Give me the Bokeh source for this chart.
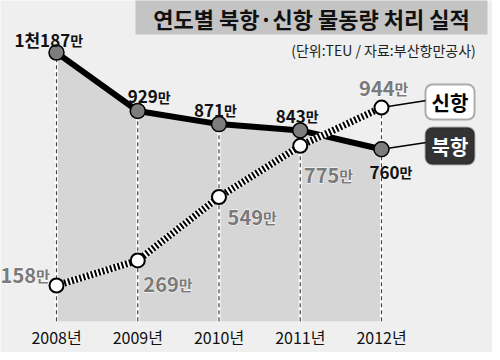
from bokeh.plotting import figure
from bokeh.models import Range1d, BoxAnnotation, Label, ColumnDataSource
from bokeh.core.properties import value
from bokeh.embed import file_html
from bokeh.resources import INLINE
import numpy as np

# ---------------- data ----------------
years = [2008, 2009, 2010, 2011, 2012]
year_labels = ["2008년", "2009년", "2010년", "2011년", "2012년"]
north = [1187, 929, 871, 843, 760]          # 북항
new = [158, 269, 549, 775, 944]             # 신항
north_text = ["1천187", "929", "871", "843", "760"]
new_text = ["158", "269", "549", "775", "944"]
unit = "만"
title = "연도별 북항·신항 물동량 처리 실적"
subtitle = "(단위:TEU / 자료:부산항만공사)"
legend_new = "신항"
legend_north = "북항"

# ---------------- layout helpers ----------------
BG = "#efefef"
W, H = 492, 352
PX_YEAR = 81.25
X2008 = 64
PX_UNIT = 0.2264
Y_ZERO = 328.8


def X(px):
    return 2008 + (px - X2008) / PX_YEAR


def Y(py):
    return (Y_ZERO - py) / PX_UNIT


CJK = "Noto Sans CJK KR"
NUMF = "Noto Sans CJK KR"

p = figure(width=W, height=H, x_range=Range1d(X(8), X(500)), y_range=Range1d(Y(360), Y(8)),
           output_backend="svg", toolbar_location=None, min_border=0,
           x_axis_type=None, y_axis_type=None,
           background_fill_color=BG, border_fill_color=BG, outline_line_color=None)
p.grid.visible = False

# area under 북항
p.varea(x=years, y1=[0] * len(years), y2=north, fill_color="#d6d6d6")

# dashed verticals
tops = list(np.maximum(north, new))
p.segment(x0=years, y0=[0] * len(years), x1=years, y1=tops, line_color="white", line_width=3)
p.segment(x0=years, y0=[0] * len(years), x1=years, y1=tops, line_color="#444444",
          line_width=1.2, line_dash="4 3")

# title box
p.add_layout(BoxAnnotation(left=X(143), right=X(495), top=Y(0), bottom=Y(42),
                           fill_color="#c4c4c4", fill_alpha=1, line_color=None, level="underlay"))
p.add_layout(Label(x=X(319), y=Y(25), text=title, text_align="center", text_baseline="middle",
                   text_font=CJK, text_font_size="22px", text_font_style="bold", text_color="#111111"))
p.add_layout(Label(x=X(391), y=Y(57), text=subtitle, text_align="center", text_baseline="middle",
                   text_font=CJK, text_font_size="14px", text_color="#222222"))

# callout lines
p.segment(x0=[years[-1]], y0=[new[-1]], x1=[X(434)], y1=[Y(108)], line_color="black", line_width=1.5)
p.segment(x0=[years[-1]], y0=[north[-1]], x1=[X(434)], y1=[Y(150)], line_color="black", line_width=1.5)

# callout boxes
p.add_layout(BoxAnnotation(left=X(433), right=X(482), top=Y(92), bottom=Y(127),
                           fill_color="white", fill_alpha=1, line_color="black", line_width=2,
                           border_radius=7))
p.add_layout(BoxAnnotation(left=X(433), right=X(482), top=Y(135), bottom=Y(172),
                           fill_color="#333333", fill_alpha=1, line_color="#1a1a1a", line_width=2,
                           border_radius=7))
p.add_layout(Label(x=X(457.5), y=Y(109.5), text=legend_new, text_align="center", text_baseline="middle",
                   text_font=CJK, text_font_size="20px", text_font_style="bold", text_color="black"))
p.add_layout(Label(x=X(457.5), y=Y(153.5), text=legend_north, text_align="center", text_baseline="middle",
                   text_font=CJK, text_font_size="20px", text_font_style="bold", text_color="white"))

# lines
p.line(years, north, line_color="black", line_width=6)
p.line(years, new, line_color="white", line_width=7)
p.line(years, new, line_color="black", line_width=7, line_dash="2 2")

# markers
p.scatter(years, north, size=15, fill_color="#7d7d7d", line_color="black", line_width=1.5)
p.scatter(years, new, size=14, fill_color="white", line_color="black", line_width=2)


def label_set(xs, ys, nums, dxs, dys, size, usize, color, style, halo):
    splits = []
    for s, dx in zip(nums, dxs):
        nw = sum(0.55 * size if ch.isdigit() else 1.0 * size for ch in s)
        uw = 1.0 * usize
        left = dx - (nw + uw) / 2
        splits.append(left + nw)
    src = ColumnDataSource(dict(x=xs, y=ys, t=nums, u=[unit] * len(xs), xo=splits, yo=dys))
    passes = [True, False] if halo else [False]
    for outline in passes:
        kw = dict(text_color=color, text_baseline="alphabetic")
        if outline:
            kw["text_outline_color"] = "white"
        p.text(x="x", y="y", text="t", x_offset="xo", y_offset="yo", source=src, text_align="right",
               text_font=value(NUMF), text_font_size=f"{size}px", text_font_style=style, **kw)
        p.text(x="x", y="y", text="u", x_offset="xo", y_offset="yo", source=src, text_align="left",
               text_font=value(CJK), text_font_size=f"{usize}px", text_font_style=style, **kw)


north_dx = [-6.5, 13, -2, -1.5, 11]
north_dy = [-13, -14, -14, -14, 23]
new_dx = [-29.5, 32, 35, 30, 4]
new_dy = [-10, 24, 20, 30, -19]

label_set(years, north, north_text, north_dx, north_dy, 17, 14, "#111111", "bold", False)
label_set(years, new, new_text, new_dx, new_dy, 20, 15, "#7a7a7a", "bold", True)

# year labels
p.text(x=years, y=[0] * len(years), text=year_labels, y_offset=16, text_align="center",
       text_baseline="middle", text_font=value(CJK), text_font_size="16px", text_color="#111111")

open("out.html", "w").write(file_html(p, INLINE))
